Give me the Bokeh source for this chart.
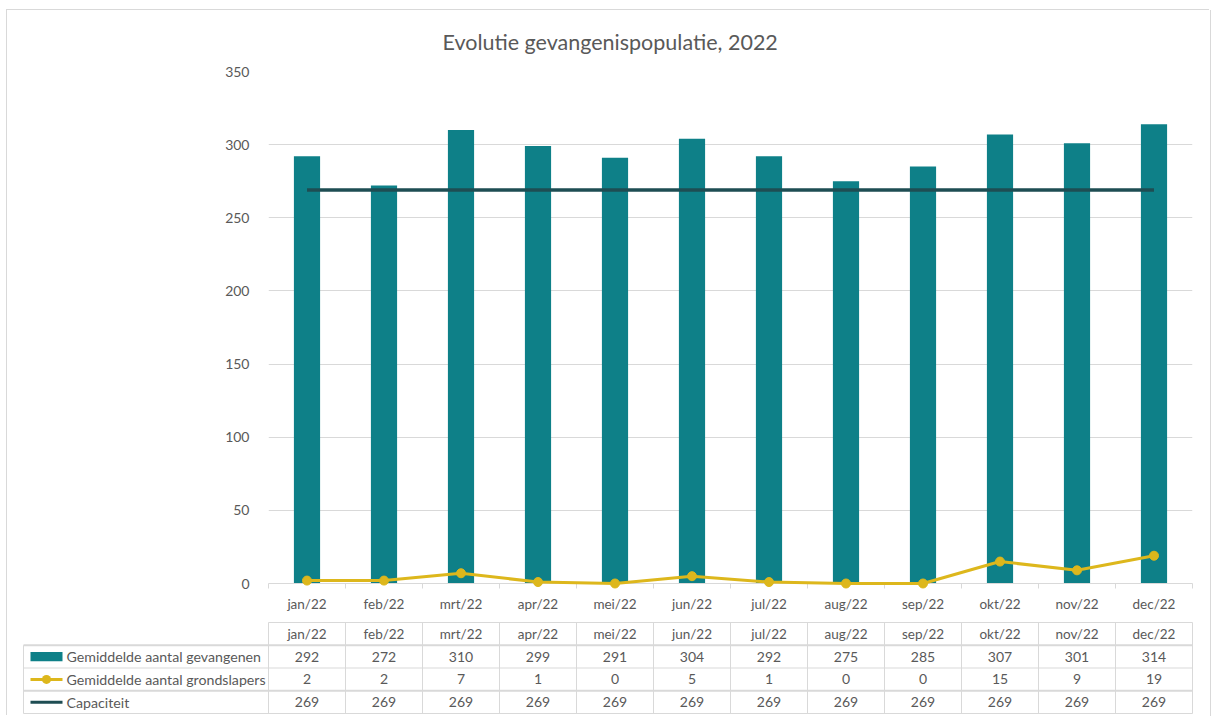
import numpy as np
from bokeh.plotting import figure
from bokeh.models import Range1d, FixedTicker
from bokeh.layouts import column
from bokeh.embed import file_html
from bokeh.resources import INLINE
from bokeh.core.properties import value

# ---------------- data ----------------
months = ["jan/22", "feb/22", "mrt/22", "apr/22", "mei/22", "jun/22",
          "jul/22", "aug/22", "sep/22", "okt/22", "nov/22", "dec/22"]
prisoners = [292, 272, 310, 299, 291, 304, 292, 275, 285, 307, 301, 314]
sleepers = [2, 2, 7, 1, 0, 5, 1, 0, 0, 15, 9, 19]
capacity = [269, 269, 269, 269, 269, 269, 269, 269, 269, 269, 269, 269]
series_names = ["Gemiddelde aantal gevangenen",
                "Gemiddelde aantal grondslapers",
                "Capaciteit"]
y_ticks = [0, 50, 100, 150, 200, 250, 300, 350]
title_text = "Evolutie gevangenispopulatie, 2022"

# ---------------- style ----------------
FONT = "Lato"
TXT = "#595959"
GRID = "#D9D9D9"
BAR = "#0E8088"
YEL = "#DDB71C"
CAP = "#1E4D53"

ORIGIN_X = 7          # page x of layout
ORIGIN_Y = 10         # page y of layout
W = 1203
BORDER_L = 261
BORDER_R = 18
FRAME_LEFT_PAGE = ORIGIN_X + BORDER_L
n = len(months)
PX_UNIT = (W - BORDER_L - BORDER_R) / float(n)
xc = np.arange(n) + 0.5

# ---------------- chart ----------------
p = figure(width=W, height=609, x_range=Range1d(0, n), y_range=Range1d(0, 350),
           output_backend="svg", toolbar_location=None,
           min_border_left=BORDER_L, min_border_right=BORDER_R, min_border_top=61,
           min_border_bottom=36, title=title_text)
p.outline_line_color = None
p.background_fill_color = "white"
p.border_fill_color = "white"

p.title.align = "left"
p.title.vertical_align = "middle"
p.title.offset = 174
p.title.standoff = 32
p.title.text_font = FONT
p.title.text_font_size = "21.5px"
p.title.text_font_style = "normal"
p.title.text_color = TXT

p.xgrid.visible = False
p.ygrid.grid_line_color = GRID
p.ygrid.grid_line_width = 1
p.ygrid.ticker = FixedTicker(ticks=y_ticks)

yax = p.yaxis[0]
yax.ticker = FixedTicker(ticks=y_ticks)
yax.axis_line_color = None
yax.major_tick_line_color = None
yax.minor_tick_line_color = None
yax.major_label_text_font = FONT
yax.major_label_text_font_size = "14px"
yax.major_label_text_color = TXT
yax.major_label_standoff = 13

xax = p.xaxis[0]
xax.ticker = FixedTicker(ticks=list(xc), minor_ticks=list(range(n + 1)))
xax.major_label_overrides = {float(v): m for v, m in zip(xc, months)}
xax.axis_line_color = GRID
xax.axis_line_width = 1
xax.major_tick_line_color = None
xax.minor_tick_line_color = GRID
xax.minor_tick_in = 0
xax.minor_tick_out = 5
xax.major_label_text_font = FONT
xax.major_label_text_font_size = "13.5px"
xax.major_label_text_color = TXT
xax.major_label_standoff = 6

p.vbar(x=xc, top=prisoners, width=0.34, fill_color=BAR, line_color=None)
p.line(xc, capacity, line_width=3.5, line_color=CAP)
p.line(xc, sleepers, line_width=3, line_color=YEL, level="overlay")
p.scatter(xc, sleepers, size=9, fill_color=YEL, line_color=YEL, level="overlay")

# ---------------- data table ----------------
tbl_left = (23 - FRAME_LEFT_PAGE) / PX_UNIT
key_l = (30 - FRAME_LEFT_PAGE) / PX_UNIT
key_r = (62 - FRAME_LEFT_PAGE) / PX_UNIT
key_c = (key_l + key_r) / 2
lab_x = (66 - FRAME_LEFT_PAGE) / PX_UNIT

t = figure(width=W, height=97, x_range=Range1d(0, n), y_range=Range1d(0, 4),
           output_backend="svg", toolbar_location=None,
           x_axis_location=None, y_axis_location=None,
           min_border_left=BORDER_L, min_border_right=BORDER_R,
           min_border_top=3, min_border_bottom=3)
t.grid.visible = False
t.outline_line_color = None
t.background_fill_color = "white"
t.border_fill_color = "white"

hx0 = [0, tbl_left, tbl_left, tbl_left, tbl_left]
hx1 = [n] * 5
hy = [4, 3, 2, 1, 0]
hw = [1, 2, 1, 2, 1]
t.segment(x0=hx0, y0=hy, x1=hx1, y1=hy, line_color=GRID, line_width=hw, level="overlay")
vx = [tbl_left] + list(range(n + 1))
vy0 = [0] * len(vx)
vy1 = [3] + [4] * (n + 1)
t.segment(x0=vx, y0=vy0, x1=vx, y1=vy1, line_color=GRID, line_width=1, level="overlay")

num_kw = dict(text_font=value(FONT), text_font_size="14px", text_color=TXT,
              text_align="center", text_baseline="middle", level="overlay")
t.text(x=xc, y=[3.5] * n, text=months,
       **{**num_kw, "text_font_size": "13.5px"})
t.text(x=xc, y=[2.5] * n, text=[str(v) for v in prisoners], **num_kw)
t.text(x=xc, y=[1.5] * n, text=[str(v) for v in sleepers], **num_kw)
t.text(x=xc, y=[0.5] * n, text=[str(v) for v in capacity], **num_kw)

# legend keys in the row headers
t.quad(left=[key_l], right=[key_r], top=[2.5 + 0.2], bottom=[2.5 - 0.2],
       fill_color=BAR, line_color=None, level="overlay")
t.line([key_l, key_r], [1.5, 1.5], line_color=YEL, line_width=3, level="overlay")
t.line([key_c - 0.001, key_c + 0.001], [1.5, 1.5], line_color=YEL, line_width=9,
       line_cap="round", level="overlay")
t.line([key_l, key_r], [0.5, 0.5], line_color=CAP, line_width=3, level="overlay")
t.text(x=[lab_x] * 3, y=[2.5, 1.5, 0.5], text=series_names,
       text_font=value(FONT), text_font_size="14.2px", text_color=TXT,
       text_align="left", text_baseline="middle", level="overlay")

layout = column(p, t, spacing=0, margin=(ORIGIN_Y, 0, 0, ORIGIN_X),
                styles={"box-shadow": "-1px -1px 0 0 #D9D9D9, 1px 0 0 0 #D9D9D9"})

open("out.html", "w").write(file_html(layout, INLINE))
